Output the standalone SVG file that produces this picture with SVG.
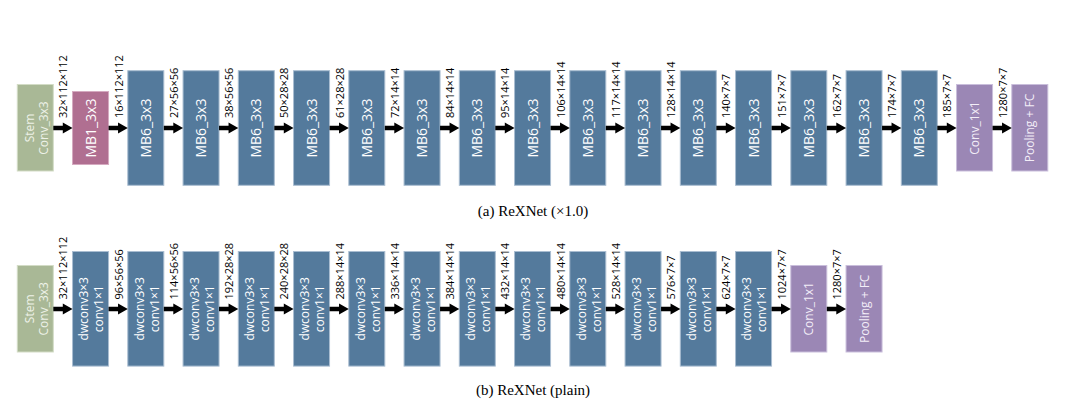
<svg xmlns="http://www.w3.org/2000/svg" xmlns:xlink="http://www.w3.org/1999/xlink" width="1066" height="413" viewBox="0 0 1066 413">
<style>
.mb6{fill:#547a9c;stroke:#a9bdd1;stroke-width:1}
.stem{fill:#a9b896;stroke:#d3dcc6;stroke-width:1}
.mb1{fill:#b06f91;stroke:#d5aac0;stroke-width:1}
.pur{fill:#9b87b5;stroke:#c9bedb;stroke-width:1}
.t14{font-family:"Open Sans","Noto Sans",sans-serif;font-size:14px;fill:#ffffff;text-anchor:middle}
.t12{font-family:"Open Sans","Noto Sans",sans-serif;font-size:12px;fill:#ffffff;text-anchor:middle}
.tg{fill:#eef2e8}
.tp{fill:#f3eef8}
.lab{font-family:"Open Sans","Noto Sans",sans-serif;font-size:11px;fill:#000000}
.cap{font-family:"Liberation Serif","Times New Roman",serif;font-size:15px;fill:#000000;text-anchor:middle}
</style>
<defs>
<polygon id="arr" points="0,-2.3 9.5,-2.3 9.5,-5.6 19.25,0 9.5,5.6 9.5,2.3 0,2.3" fill="#000000"/>
</defs>

<!-- Row (a) -->
<g id="a-stem"><rect class="stem" x="17.3" y="84.5" width="36" height="86.5"/>
<text class="t12 tg" transform="translate(33.5,128) rotate(-90)">Stem</text>
<text class="t12 tg" transform="translate(48.3,128) rotate(-90)">Conv_3x3</text></g>
<g id="a-mb1"><rect class="mb1" x="72.55" y="91.5" width="36" height="73"/>
<text class="t14" transform="translate(95.6,128) rotate(-90)">MB1_3x3</text></g>
<g id="a-mb6-1"><rect class="mb6" x="127.8" y="70.7" width="36" height="114.6"/><text class="t14" transform="translate(150.8,128) rotate(-90)">MB6_3x3</text></g>
<g id="a-mb6-2"><rect class="mb6" x="183.05" y="70.7" width="36" height="114.6"/><text class="t14" transform="translate(206.05,128) rotate(-90)">MB6_3x3</text></g>
<g id="a-mb6-3"><rect class="mb6" x="238.3" y="70.7" width="36" height="114.6"/><text class="t14" transform="translate(261.3,128) rotate(-90)">MB6_3x3</text></g>
<g id="a-mb6-4"><rect class="mb6" x="293.55" y="70.7" width="36" height="114.6"/><text class="t14" transform="translate(316.55,128) rotate(-90)">MB6_3x3</text></g>
<g id="a-mb6-5"><rect class="mb6" x="348.8" y="70.7" width="36" height="114.6"/><text class="t14" transform="translate(371.8,128) rotate(-90)">MB6_3x3</text></g>
<g id="a-mb6-6"><rect class="mb6" x="404.05" y="70.7" width="36" height="114.6"/><text class="t14" transform="translate(427.05,128) rotate(-90)">MB6_3x3</text></g>
<g id="a-mb6-7"><rect class="mb6" x="459.3" y="70.7" width="36" height="114.6"/><text class="t14" transform="translate(482.3,128) rotate(-90)">MB6_3x3</text></g>
<g id="a-mb6-8"><rect class="mb6" x="514.55" y="70.7" width="36" height="114.6"/><text class="t14" transform="translate(537.55,128) rotate(-90)">MB6_3x3</text></g>
<g id="a-mb6-9"><rect class="mb6" x="569.8" y="70.7" width="36" height="114.6"/><text class="t14" transform="translate(592.8,128) rotate(-90)">MB6_3x3</text></g>
<g id="a-mb6-10"><rect class="mb6" x="625.05" y="70.7" width="36" height="114.6"/><text class="t14" transform="translate(648.05,128) rotate(-90)">MB6_3x3</text></g>
<g id="a-mb6-11"><rect class="mb6" x="680.3" y="70.7" width="36" height="114.6"/><text class="t14" transform="translate(703.3,128) rotate(-90)">MB6_3x3</text></g>
<g id="a-mb6-12"><rect class="mb6" x="735.55" y="70.7" width="36" height="114.6"/><text class="t14" transform="translate(758.55,128) rotate(-90)">MB6_3x3</text></g>
<g id="a-mb6-13"><rect class="mb6" x="790.8" y="70.7" width="36" height="114.6"/><text class="t14" transform="translate(813.8,128) rotate(-90)">MB6_3x3</text></g>
<g id="a-mb6-14"><rect class="mb6" x="846.05" y="70.7" width="36" height="114.6"/><text class="t14" transform="translate(869.05,128) rotate(-90)">MB6_3x3</text></g>
<g id="a-mb6-15"><rect class="mb6" x="901.3" y="70.7" width="36" height="114.6"/><text class="t14" transform="translate(924.3,128) rotate(-90)">MB6_3x3</text></g>
<g id="a-conv"><rect class="pur" x="956.55" y="84.5" width="36" height="86.5"/><text class="t12 tp" transform="translate(979,128) rotate(-90)">Conv_1x1</text></g>
<g id="a-pool"><rect class="pur" x="1011.8" y="84.5" width="36" height="86.5"/><text class="t12 tp" transform="translate(1034.2,128) rotate(-90)">Pooling + FC</text></g>

<!-- Row (b) -->
<g id="b-stem"><rect class="stem" x="17.3" y="265.5" width="36" height="86.5"/>
<text class="t12 tg" transform="translate(33.5,308.8) rotate(-90)">Stem</text>
<text class="t12 tg" transform="translate(48.3,308.8) rotate(-90)">Conv_3x3</text></g>
<g id="b-dw-1"><rect class="mb6" x="72.55" y="251.5" width="36" height="114.6"/><text class="t12" transform="translate(88.3,308.8) rotate(-90)">dwconv3×3</text><text class="t12" transform="translate(103.3,308.8) rotate(-90)">conv1×1</text></g>
<g id="b-dw-2"><rect class="mb6" x="127.8" y="251.5" width="36" height="114.6"/><text class="t12" transform="translate(143.55,308.8) rotate(-90)">dwconv3×3</text><text class="t12" transform="translate(158.55,308.8) rotate(-90)">conv1×1</text></g>
<g id="b-dw-3"><rect class="mb6" x="183.05" y="251.5" width="36" height="114.6"/><text class="t12" transform="translate(198.8,308.8) rotate(-90)">dwconv3×3</text><text class="t12" transform="translate(213.8,308.8) rotate(-90)">conv1×1</text></g>
<g id="b-dw-4"><rect class="mb6" x="238.3" y="251.5" width="36" height="114.6"/><text class="t12" transform="translate(254.05,308.8) rotate(-90)">dwconv3×3</text><text class="t12" transform="translate(269.05,308.8) rotate(-90)">conv1×1</text></g>
<g id="b-dw-5"><rect class="mb6" x="293.55" y="251.5" width="36" height="114.6"/><text class="t12" transform="translate(309.3,308.8) rotate(-90)">dwconv3×3</text><text class="t12" transform="translate(324.3,308.8) rotate(-90)">conv1×1</text></g>
<g id="b-dw-6"><rect class="mb6" x="348.8" y="251.5" width="36" height="114.6"/><text class="t12" transform="translate(364.55,308.8) rotate(-90)">dwconv3×3</text><text class="t12" transform="translate(379.55,308.8) rotate(-90)">conv1×1</text></g>
<g id="b-dw-7"><rect class="mb6" x="404.05" y="251.5" width="36" height="114.6"/><text class="t12" transform="translate(419.8,308.8) rotate(-90)">dwconv3×3</text><text class="t12" transform="translate(434.8,308.8) rotate(-90)">conv1×1</text></g>
<g id="b-dw-8"><rect class="mb6" x="459.3" y="251.5" width="36" height="114.6"/><text class="t12" transform="translate(475.05,308.8) rotate(-90)">dwconv3×3</text><text class="t12" transform="translate(490.05,308.8) rotate(-90)">conv1×1</text></g>
<g id="b-dw-9"><rect class="mb6" x="514.55" y="251.5" width="36" height="114.6"/><text class="t12" transform="translate(530.3,308.8) rotate(-90)">dwconv3×3</text><text class="t12" transform="translate(545.3,308.8) rotate(-90)">conv1×1</text></g>
<g id="b-dw-10"><rect class="mb6" x="569.8" y="251.5" width="36" height="114.6"/><text class="t12" transform="translate(585.55,308.8) rotate(-90)">dwconv3×3</text><text class="t12" transform="translate(600.55,308.8) rotate(-90)">conv1×1</text></g>
<g id="b-dw-11"><rect class="mb6" x="625.05" y="251.5" width="36" height="114.6"/><text class="t12" transform="translate(640.8,308.8) rotate(-90)">dwconv3×3</text><text class="t12" transform="translate(655.8,308.8) rotate(-90)">conv1×1</text></g>
<g id="b-dw-12"><rect class="mb6" x="680.3" y="251.5" width="36" height="114.6"/><text class="t12" transform="translate(696.05,308.8) rotate(-90)">dwconv3×3</text><text class="t12" transform="translate(711.05,308.8) rotate(-90)">conv1×1</text></g>
<g id="b-dw-13"><rect class="mb6" x="735.55" y="251.5" width="36" height="114.6"/><text class="t12" transform="translate(751.3,308.8) rotate(-90)">dwconv3×3</text><text class="t12" transform="translate(766.3,308.8) rotate(-90)">conv1×1</text></g>
<g id="b-conv"><rect class="pur" x="790.8" y="265.5" width="36" height="86.5"/><text class="t12 tp" transform="translate(813.3,308.8) rotate(-90)">Conv_1x1</text></g>
<g id="b-pool"><rect class="pur" x="846.05" y="265.5" width="36" height="86.5"/><text class="t12 tp" transform="translate(868.5,308.8) rotate(-90)">Pooling + FC</text></g>

<!-- Connectors -->
<g id="connectors">
<use xlink:href="#arr" x="53.3" y="128"/>
<use xlink:href="#arr" x="108.55" y="128"/>
<use xlink:href="#arr" x="163.8" y="128"/>
<use xlink:href="#arr" x="219.05" y="128"/>
<use xlink:href="#arr" x="274.3" y="128"/>
<use xlink:href="#arr" x="329.55" y="128"/>
<use xlink:href="#arr" x="384.8" y="128"/>
<use xlink:href="#arr" x="440.05" y="128"/>
<use xlink:href="#arr" x="495.3" y="128"/>
<use xlink:href="#arr" x="550.55" y="128"/>
<use xlink:href="#arr" x="605.8" y="128"/>
<use xlink:href="#arr" x="661.05" y="128"/>
<use xlink:href="#arr" x="716.3" y="128"/>
<use xlink:href="#arr" x="771.55" y="128"/>
<use xlink:href="#arr" x="826.8" y="128"/>
<use xlink:href="#arr" x="882.05" y="128"/>
<use xlink:href="#arr" x="937.3" y="128"/>
<use xlink:href="#arr" x="992.55" y="128"/>

<use xlink:href="#arr" x="53.3" y="309"/>
<use xlink:href="#arr" x="108.55" y="309"/>
<use xlink:href="#arr" x="163.8" y="309"/>
<use xlink:href="#arr" x="219.05" y="309"/>
<use xlink:href="#arr" x="274.3" y="309"/>
<use xlink:href="#arr" x="329.55" y="309"/>
<use xlink:href="#arr" x="384.8" y="309"/>
<use xlink:href="#arr" x="440.05" y="309"/>
<use xlink:href="#arr" x="495.3" y="309"/>
<use xlink:href="#arr" x="550.55" y="309"/>
<use xlink:href="#arr" x="605.8" y="309"/>
<use xlink:href="#arr" x="661.05" y="309"/>
<use xlink:href="#arr" x="716.3" y="309"/>
<use xlink:href="#arr" x="771.55" y="309"/>
<use xlink:href="#arr" x="826.8" y="309"/>

<!-- labels row a -->
<text class="lab" transform="translate(67.3,118) rotate(-90)">32×112×112</text>
<text class="lab" transform="translate(122.55,118) rotate(-90)">16×112×112</text>
<text class="lab" transform="translate(177.8,118) rotate(-90)">27×56×56</text>
<text class="lab" transform="translate(233.05,118) rotate(-90)">38×56×56</text>
<text class="lab" transform="translate(288.3,118) rotate(-90)">50×28×28</text>
<text class="lab" transform="translate(343.55,118) rotate(-90)">61×28×28</text>
<text class="lab" transform="translate(398.8,118) rotate(-90)">72×14×14</text>
<text class="lab" transform="translate(454.05,118) rotate(-90)">84×14×14</text>
<text class="lab" transform="translate(509.3,118) rotate(-90)">95×14×14</text>
<text class="lab" transform="translate(564.55,118) rotate(-90)">106×14×14</text>
<text class="lab" transform="translate(619.8,118) rotate(-90)">117×14×14</text>
<text class="lab" transform="translate(675.05,118) rotate(-90)">128×14×14</text>
<text class="lab" transform="translate(730.3,118) rotate(-90)">140×7×7</text>
<text class="lab" transform="translate(785.55,118) rotate(-90)">151×7×7</text>
<text class="lab" transform="translate(840.8,118) rotate(-90)">162×7×7</text>
<text class="lab" transform="translate(896.05,118) rotate(-90)">174×7×7</text>
<text class="lab" transform="translate(951.3,118) rotate(-90)">185×7×7</text>
<text class="lab" transform="translate(1006.55,118) rotate(-90)">1280×7×7</text>

<!-- labels row b -->
<text class="lab" transform="translate(67.3,299.5) rotate(-90)">32×112×112</text>
<text class="lab" transform="translate(122.55,299.5) rotate(-90)">96×56×56</text>
<text class="lab" transform="translate(177.8,299.5) rotate(-90)">114×56×56</text>
<text class="lab" transform="translate(233.05,299.5) rotate(-90)">192×28×28</text>
<text class="lab" transform="translate(288.3,299.5) rotate(-90)">240×28×28</text>
<text class="lab" transform="translate(343.55,299.5) rotate(-90)">288×14×14</text>
<text class="lab" transform="translate(398.8,299.5) rotate(-90)">336×14×14</text>
<text class="lab" transform="translate(454.05,299.5) rotate(-90)">384×14×14</text>
<text class="lab" transform="translate(509.3,299.5) rotate(-90)">432×14×14</text>
<text class="lab" transform="translate(564.55,299.5) rotate(-90)">480×14×14</text>
<text class="lab" transform="translate(619.8,299.5) rotate(-90)">528×14×14</text>
<text class="lab" transform="translate(675.05,299.5) rotate(-90)">576×7×7</text>
<text class="lab" transform="translate(730.3,299.5) rotate(-90)">624×7×7</text>
<text class="lab" transform="translate(785.55,299.5) rotate(-90)">1024×7×7</text>
<text class="lab" transform="translate(840.8,299.5) rotate(-90)">1280×7×7</text>
</g>

<text class="cap" x="533" y="216">(a) ReXNet (×1.0)</text>
<text class="cap" x="533" y="395">(b) ReXNet (plain)</text>
</svg>
